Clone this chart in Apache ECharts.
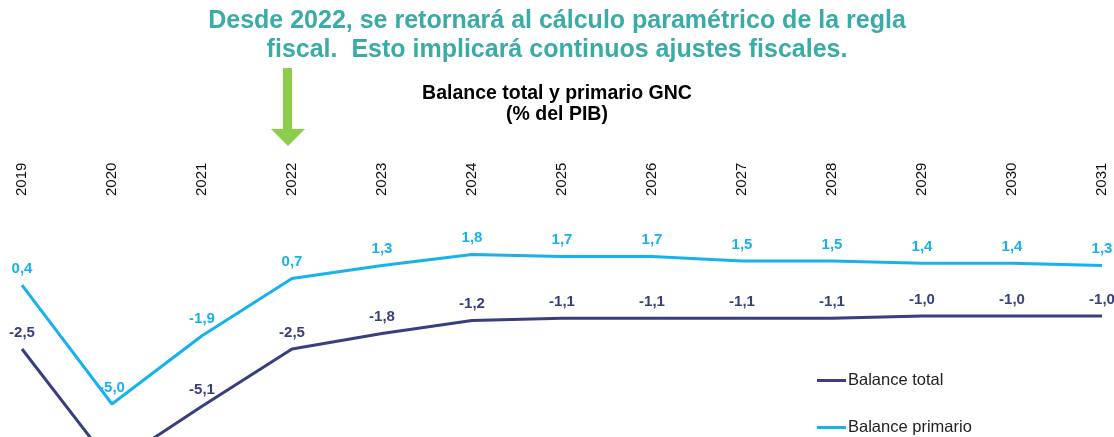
<!DOCTYPE html>
<html>
<head>
<meta charset="utf-8">
<script src="https://cdn.jsdelivr.net/npm/echarts@6/dist/echarts.min.js"></script>
<style>
  html, body { margin: 0; padding: 0; background: #fff; }
  #chart { width: 1114px; height: 437px; }
</style>
</head>
<body>
<div id="chart"></div>
<script>
var years = ['2019', '2020', '2021', '2022', '2023', '2024', '2025', '2026', '2027', '2028', '2029', '2030', '2031'];
var balanceTotal = [-2.5, -7.8, -5.1, -2.5, -1.8, -1.2, -1.1, -1.1, -1.1, -1.1, -1.0, -1.0, -1.0];
var balancePrimario = [0.4, -5.0, -1.9, 0.7, 1.3, 1.8, 1.7, 1.7, 1.5, 1.5, 1.4, 1.4, 1.3];

var headline = ['Desde 2022, se retornará al cálculo paramétrico de la regla',
    'fiscal.  Esto implicará continuos ajustes fiscales.'];

var NAVY = '#383f80';
var SKY = '#17b2ec';

function fmt(p) {
    return p.value.toFixed(1).replace('.', ',');
}

var chart = echarts.init(document.getElementById('chart'));

chart.setOption({
    animation: false,
    textStyle: { fontFamily: 'Liberation Sans, Arial, sans-serif' },
    grid: { left: 22, right: 12, top: 206, bottom: 0 },
    title: [{
        text: headline.join('\n'),
        left: 'center',
        top: 2,
        textStyle: {
            fontSize: 25, fontWeight: 'bold', color: '#3aaba6', lineHeight: 29
        }
    }, {
        text: 'Balance total y primario GNC\n(% del PIB)',
        left: 'center',
        top: 78,
        textStyle: { fontSize: 19.5, fontWeight: 'bold', color: '#000', lineHeight: 21 }
    }],
    legend: {
        orient: 'vertical',
        left: 817,
        top: 372,
        padding: 0,
        itemGap: 30,
        itemWidth: 29,
        itemHeight: 3,
        icon: 'rect',
        textStyle: { fontSize: 16.5, color: '#222', padding: [0, 0, 0, -3] },
        data: ['Balance total', 'Balance primario']
    },
    xAxis: {
        type: 'category',
        position: 'top',
        boundaryGap: false,
        data: years,
        axisLine: { show: false },
        axisTick: { show: false },
        axisLabel: { rotate: 90, margin: 10, fontSize: 15, color: '#111' }
    },
    yAxis: {
        type: 'value',
        min: -6.5,
        max: 4,
        show: false,
        splitLine: { show: false }
    },
    series: [{
        name: 'Balance total',
        type: 'line',
        data: balanceTotal,
        symbol: 'circle',
        symbolSize: 0,
        lineStyle: { color: NAVY, width: 3 },
        itemStyle: { color: NAVY },
        label: {
            show: true, position: 'top', distance: 9, formatter: fmt,
            color: NAVY, fontSize: 15, fontWeight: 'bold'
        }
    }, {
        name: 'Balance primario',
        type: 'line',
        data: balancePrimario,
        symbol: 'circle',
        symbolSize: 0,
        lineStyle: { color: SKY, width: 3 },
        itemStyle: { color: SKY },
        label: {
            show: true, position: 'top', distance: 9, formatter: fmt,
            color: SKY, fontSize: 15, fontWeight: 'bold'
        }
    }],
    graphic: [{
        // green arrow pointing at 2022
        type: 'polygon',
        shape: {
            points: [[283, 68], [292, 68], [292, 129], [305, 129], [288, 146], [271, 129], [283, 129]]
        },
        style: { fill: '#8cce4a' }
    }]
});
</script>
</body>
</html>
